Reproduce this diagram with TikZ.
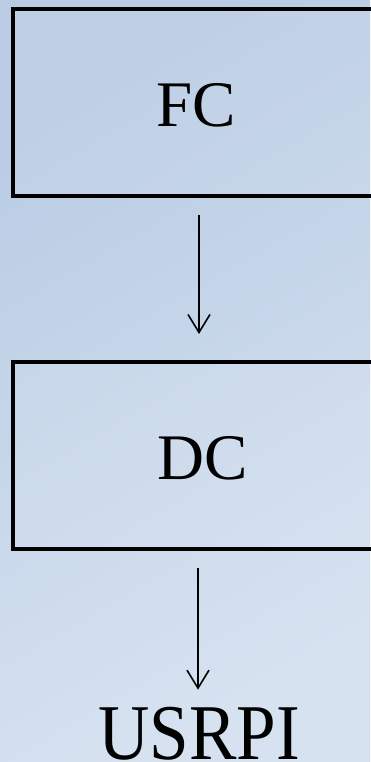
\documentclass[tikz,border=0pt]{standalone}
\usepackage{fontspec}
\setmainfont{Liberation Serif}
\usetikzlibrary{arrows.meta,positioning}

\definecolor{bgdark}{HTML}{B9CCE4}
\definecolor{bglight}{HTML}{D6E2F0}

\tikzset{
  stage/.style={draw=black, line width=4pt, fill=white, fill opacity=0.08,
                text opacity=1, minimum width=366pt, minimum height=187pt,
                text height=49pt, font=\fontsize{65}{78}\selectfont},
  outcome/.style={inner sep=0pt, outer sep=0pt, font=\fontsize{79}{95}\selectfont,
                  xscale=0.9, transform shape},
  flow/.style={line width=1.6pt, -{Straight Barb[length=18pt,width=22pt]}}
}

\begin{document}
\begin{tikzpicture}[x=1pt,y=1pt]
  % background
  \shade[left color=bgdark, right color=bglight, shading angle=30]
    (0,0) rectangle (370,762);
  \useasboundingbox (0,0) rectangle (370,762);

  \node[stage] (fc) at (196,659.5) {FC};
  \node[stage, minimum width=380pt] (dc) [below=162pt of fc, xshift=7pt] {DC};
  \node[outcome, anchor=base] (usrpi) at ([xshift=-4pt,yshift=-209pt]dc.south) {USRPI};

  \draw[flow, shorten <=17pt, shorten >=26pt] ([xshift=3pt]fc.south) -- ([xshift=3pt]fc.south |- dc.north);
  \draw[flow, shorten <=17pt, shorten >=18pt] ([xshift=-5pt]dc.south) -- ([xshift=-1pt]usrpi.north);
\end{tikzpicture}
\end{document}
